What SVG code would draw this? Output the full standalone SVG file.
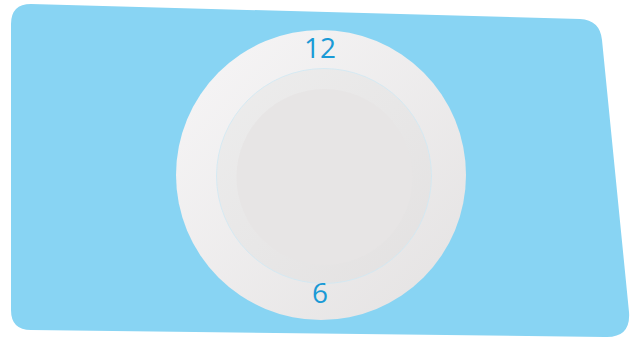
<svg xmlns="http://www.w3.org/2000/svg" width="633" height="339" viewBox="0 0 633 339">
<defs>
<linearGradient id="outerG" x1="0" y1="0" x2="1" y2="1">
<stop offset="0" stop-color="#f7f6f7"/>
<stop offset="1" stop-color="#e4e2e2"/>
</linearGradient>
<linearGradient id="ringG" x1="0" y1="0" x2="1" y2="1">
<stop offset="0" stop-color="#ededed"/>
<stop offset="1" stop-color="#e3e1e1"/>
</linearGradient>
<style>
.num{font-family:"Open Sans","Liberation Sans",sans-serif;font-size:28px;font-weight:500;fill:#1a9ad6;text-anchor:middle}
</style>
</defs>
<g id="background">
<path d="M31,4 L580,19 Q600,20 602,40 L629,312 Q631,338 605,337 L31,330 Q11,330 11,310 L11,24 Q11,4 31,4 Z" fill="#88d4f3"/>
</g>
<g id="clock">
<circle cx="321" cy="175" r="145" fill="url(#outerG)"/>
<circle cx="324" cy="176" r="107.5" fill="url(#ringG)" stroke="#cfe9f4" stroke-width="0.8"/>
<circle cx="324.5" cy="177" r="88" fill="#e7e5e5"/>
<text class="num" x="320" y="58">12</text>
<text class="num" x="320" y="303">6</text>
</g>
</svg>
